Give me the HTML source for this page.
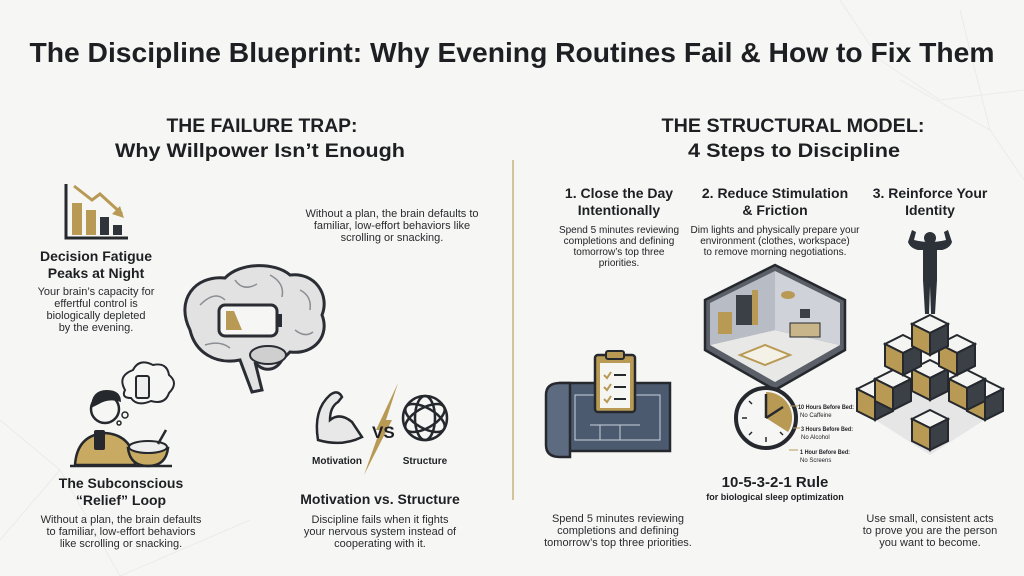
<!DOCTYPE html>
<html><head><meta charset="utf-8"><style>
html,body{margin:0;padding:0;background:#f6f6f5;}
svg{display:block}
text{font-family:"Liberation Sans",sans-serif;fill:#1e1f22}
.b{font-weight:bold}
.c{text-anchor:middle}
.s{font-size:11px;fill:#2a2b2e}
</style></head><body>
<svg width="1024" height="576" viewBox="0 0 1024 576" xmlns="http://www.w3.org/2000/svg">
<defs>
<g id="cube">
<polygon points="0,-20 18,-11 0,-2 -18,-11" fill="#f4f4f2" stroke="#25282d" stroke-width="2"/>
<polygon points="-18,-11 0,-2 0,20 -18,11" fill="#b99a55" stroke="#25282d" stroke-width="2"/>
<polygon points="18,-11 0,-2 0,20 18,11" fill="#3b3f46" stroke="#25282d" stroke-width="2"/>
</g>
</defs>
<rect width="1024" height="576" fill="#f6f6f5"/>
<g stroke="#ebebe9" stroke-width="1" fill="none">
<polyline points="840,0 880,60 940,100 1024,90"/><polyline points="900,80 990,130 1024,180"/><polyline points="990,130 960,10"/>
<polyline points="0,420 60,470 120,576"/><polyline points="60,470 0,540"/><polyline points="120,576 250,520"/>
</g>
<text x="512" y="62" class="b c" font-size="28" textLength="965" lengthAdjust="spacingAndGlyphs">The Discipline Blueprint: Why Evening Routines Fail &amp; How to Fix Them</text>
<text x="262" y="132" class="b c" font-size="19" textLength="191" lengthAdjust="spacingAndGlyphs">THE FAILURE TRAP:</text>
<text x="260" y="157" class="b c" font-size="19" textLength="290" lengthAdjust="spacingAndGlyphs">Why Willpower Isn’t Enough</text>
<text x="793" y="132" class="b c" font-size="19" textLength="263" lengthAdjust="spacingAndGlyphs">THE STRUCTURAL MODEL:</text>
<text x="794" y="157" class="b c" font-size="19" textLength="212" lengthAdjust="spacingAndGlyphs">4 Steps to Discipline</text>
<line x1="513" y1="160" x2="513" y2="500" stroke="#c9b27a" stroke-width="1.5"/>

<g>
<polyline points="66,184 66,238 128,238" fill="none" stroke="#25282d" stroke-width="3"/>
<rect x="72" y="203" width="10" height="32" fill="#b99a55"/>
<rect x="86" y="210" width="10" height="25" fill="#b99a55"/>
<rect x="100" y="217" width="9" height="18" fill="#2f333a"/>
<rect x="113" y="225" width="9" height="10" fill="#2f333a"/>
<polyline points="74,186 92,200 100,194 122,214" fill="none" stroke="#b99a55" stroke-width="3"/>
<polygon points="124,218 112,214 120,206" fill="#b99a55"/>
</g>
<text x="96" y="261" class="b c" font-size="14">Decision Fatigue</text>
<text x="96" y="278" class="b c" font-size="14">Peaks at Night</text>
<text x="96" y="295" class="c s">Your brain’s capacity for</text>
<text x="96" y="307" class="c s">effertful control is</text>
<text x="96" y="319" class="c s">biologically depleted</text>
<text x="96" y="331" class="c s">by the evening.</text>

<text x="392" y="217" class="c s">Without a plan, the brain defaults to</text>
<text x="392" y="229" class="c s">familiar, low-effort behaviors like</text>
<text x="392" y="241" class="c s">scrolling or snacking.</text>

<!-- brain -->
<path d="M190,330 C175,300 195,275 225,278 C240,262 275,262 290,275 C315,272 330,295 322,315 C330,335 315,355 290,352 L282,360 C275,372 262,372 255,362 L262,390 L252,392 L240,360 C215,365 195,352 190,330 Z" fill="#e2e2e2" stroke="#2a2d33" stroke-width="3"/>
<ellipse cx="268" cy="355" rx="18" ry="9" fill="#cfcfcf" stroke="#2a2d33" stroke-width="2"/>
<g stroke="#8a8d92" stroke-width="1.5" fill="none">
<path d="M200,305 q15,-15 25,-5"/><path d="M235,280 q8,12 22,4"/><path d="M270,275 q15,8 12,22"/><path d="M300,290 q12,6 10,20"/><path d="M205,345 q15,-5 25,3"/><path d="M295,330 q10,8 18,2"/>
</g>
<rect x="219" y="305" width="58" height="31" rx="6" fill="#f6f6f5" stroke="#2a2d33" stroke-width="3"/>
<rect x="277" y="314" width="5" height="13" fill="#2a2d33"/>
<polygon points="226,311 234,311 242,330 226,330" fill="#b99a55"/>

<g>
<circle cx="105" cy="409" r="14" fill="#f6f6f5" stroke="#25282d" stroke-width="2.5"/>
<path d="M91,408 q0,-18 16,-18 q14,0 14,12 q-12,-4 -22,2 z" fill="#25282d"/>
<path d="M75,465 q2,-30 30,-32 q28,2 30,32 z" fill="#c9aa62" stroke="#25282d" stroke-width="2.5"/>
<rect x="94" y="430" width="11" height="20" rx="2" fill="#25282d"/>
<path d="M128,448 h40 q-2,18 -20,18 q-18,0 -20,-18 z" fill="#c9aa62" stroke="#25282d" stroke-width="2.5"/>
<ellipse cx="148" cy="447" rx="19" ry="6" fill="#eee" stroke="#25282d" stroke-width="2"/>
<line x1="158" y1="444" x2="166" y2="430" stroke="#25282d" stroke-width="2.5"/>
<line x1="70" y1="466" x2="172" y2="466" stroke="#25282d" stroke-width="2.5"/>
<path d="M125,390 q-8,-14 8,-20 q6,-12 20,-5 q14,-3 16,10 q10,8 0,18 q-4,12 -18,8 q-14,6 -20,-3 q-10,0 -6,-8 z" fill="#f6f6f5" stroke="#25282d" stroke-width="2"/>
<rect x="136" y="376" width="13" height="22" rx="2" fill="#eee" stroke="#25282d" stroke-width="2"/>
<circle cx="125" cy="415" r="3" fill="none" stroke="#25282d" stroke-width="1.5"/>
<circle cx="119" cy="423" r="2" fill="none" stroke="#25282d" stroke-width="1.5"/>
</g>
<text x="121" y="488" class="b c" font-size="14">The Subconscious</text>
<text x="121" y="505" class="b c" font-size="14">“Relief” Loop</text>
<text x="121" y="523" class="c s">Without a plan, the brain defaults</text>
<text x="121" y="535" class="c s">to familiar, low-effort behaviors</text>
<text x="121" y="547" class="c s">like scrolling or snacking.</text>

<g>
<path d="M318,440 q-5,-30 12,-45 q8,-6 12,2 l-4,5 q-8,5 -8,18 q10,-8 22,2 l10,15 q-20,10 -44,3 z" fill="#e8e8e8" stroke="#25282d" stroke-width="2.5"/>
<polygon points="398,383 376,430 380,430 364,475 392,420 386,420" fill="#b99a55"/>
<text x="372" y="438" class="b" font-size="17">VS</text>
<g fill="none" stroke="#25282d" stroke-width="2.5">
<circle cx="425" cy="418" r="22"/><ellipse cx="425" cy="418" rx="22" ry="10" transform="rotate(30 425 418)"/><ellipse cx="425" cy="418" rx="22" ry="10" transform="rotate(-30 425 418)"/><ellipse cx="425" cy="418" rx="22" ry="10" transform="rotate(90 425 418)"/>
</g>
</g>
<text x="337" y="464" class="b c" font-size="10">Motivation</text>
<text x="425" y="464" class="b c" font-size="10">Structure</text>
<text x="380" y="504" class="b c" font-size="14">Motivation vs. Structure</text>
<text x="380" y="523" class="c s">Discipline fails when it fights</text>
<text x="380" y="535" class="c s">your nervous system instead of</text>
<text x="380" y="547" class="c s">cooperating with it.</text>

<text x="619" y="198" class="b c" font-size="14">1. Close the Day</text>
<text x="619" y="215" class="b c" font-size="14">Intentionally</text>
<text x="619" y="233" class="c" font-size="10">Spend 5 minutes reviewing</text>
<text x="619" y="244" class="c" font-size="10">completions and defining</text>
<text x="619" y="255" class="c" font-size="10">tomorrow’s top three</text>
<text x="619" y="266" class="c" font-size="10">priorities.</text>

<text x="775" y="198" class="b c" font-size="14">2. Reduce Stimulation</text>
<text x="775" y="215" class="b c" font-size="14">&amp; Friction</text>
<text x="775" y="233" class="c" font-size="10">Dim lights and physically prepare your</text>
<text x="775" y="244" class="c" font-size="10">environment (clothes, workspace)</text>
<text x="775" y="255" class="c" font-size="10">to remove morning negotiations.</text>

<text x="930" y="198" class="b c" font-size="14">3. Reinforce Your</text>
<text x="930" y="215" class="b c" font-size="14">Identity</text>

<g>
<rect x="560" y="383" width="110" height="68" fill="#4c5a70" stroke="#25282d" stroke-width="2.5"/>
<path d="M560,383 q-14,0 -14,12 v50 q0,12 14,12 h10 v-74 z" fill="#5d6b80" stroke="#25282d" stroke-width="2.5"/>
<g stroke="#c8d0dc" stroke-width="1" fill="none"><rect x="575" y="395" width="85" height="45"/><line x1="590" y1="425" x2="640" y2="425"/><line x1="600" y1="425" x2="600" y2="440"/><line x1="620" y1="425" x2="620" y2="440"/></g>
<rect x="595" y="355" width="40" height="57" rx="3" fill="#b99a55" stroke="#25282d" stroke-width="2.5"/>
<rect x="600" y="363" width="30" height="45" fill="#f5f5f2"/>
<rect x="606" y="351" width="18" height="8" rx="2" fill="#b99a55" stroke="#25282d" stroke-width="2"/>
<g stroke="#b99a55" stroke-width="2" fill="none"><polyline points="604,375 607,378 611,372"/><polyline points="604,387 607,390 611,384"/><polyline points="604,399 607,402 611,396"/></g>
<g stroke="#25282d" stroke-width="2"><line x1="614" y1="375" x2="626" y2="375"/><line x1="614" y1="387" x2="626" y2="387"/><line x1="614" y1="399" x2="626" y2="399"/></g>
</g>

<g>
<polygon points="705,300 775,265 845,300 845,350 775,390 705,350" fill="#5a5f68" stroke="#25282d" stroke-width="2.5"/>
<polygon points="710,303 775,271 775,330 710,345" fill="#b8bcc4"/>
<polygon points="775,271 840,303 840,345 775,330" fill="#cfd2d8"/>
<polygon points="710,345 775,330 840,345 775,382" fill="#e8e8e6"/>
<rect x="718" y="312" width="14" height="22" fill="#b99a55"/>
<rect x="736" y="295" width="20" height="30" fill="#3b3f46"/>
<rect x="752" y="290" width="6" height="35" fill="#b99a55"/>
<polygon points="740,355 765,345 790,355 765,365" fill="#f4f1e6" stroke="#b99a55" stroke-width="2"/>
<rect x="790" y="323" width="30" height="14" fill="#c9b58a" stroke="#25282d" stroke-width="1"/>
<rect x="800" y="309" width="10" height="9" fill="#3b3f46"/>
<ellipse cx="788" cy="295" rx="7" ry="4" fill="#b99a55"/>
</g>

<g>
<circle cx="766" cy="418" r="30" fill="#f6f6f5" stroke="#25282d" stroke-width="4"/>
<path d="M766,418 L766,392 A26,26 0 0 1 788,432 Z" fill="#b99a55"/>
<line x1="766" y1="418" x2="766" y2="394" stroke="#25282d" stroke-width="2.5"/>
<line x1="766" y1="418" x2="783" y2="407" stroke="#25282d" stroke-width="2.5"/>
<g stroke="#25282d" stroke-width="1.5"><line x1="742" y1="418" x2="747" y2="418"/><line x1="766" y1="442" x2="766" y2="437"/><line x1="749" y1="401" x2="752" y2="404"/><line x1="749" y1="435" x2="752" y2="432"/><line x1="783" y1="435" x2="780" y2="432"/></g>
<g stroke="#b99a55" stroke-width="1"><line x1="790" y1="406" x2="798" y2="406"/><line x1="793" y1="428" x2="800" y2="428"/><line x1="789" y1="450" x2="798" y2="450"/></g>
</g>
<polygon points="930,370 1000,410 930,455 860,410" fill="#e6e6e6"/>
<use href="#cube" x="930" y="430"/>
<use href="#cube" x="875" y="400"/>
<use href="#cube" x="985" y="400"/>
<use href="#cube" x="893" y="390"/>
<use href="#cube" x="967" y="390"/>
<use href="#cube" x="930" y="380"/>
<use href="#cube" x="903" y="355"/>
<use href="#cube" x="957" y="355"/>
<use href="#cube" x="930" y="335"/>
<g fill="#2d3138">
<circle cx="930" cy="238" r="6"/>
<path d="M912,230 l-4,12 q2,6 10,8 l5,0 l0,30 l2,34 h4 l1,-28 l1,28 h4 l2,-34 l0,-30 l5,0 q8,-2 10,-8 l-4,-12 l-4,2 l2,8 q-8,2 -16,2 q-8,0 -16,-2 l2,-8 z"/>
</g>
<text x="798" y="409" class="b" font-size="6.5" textLength="56" lengthAdjust="spacingAndGlyphs">10 Hours Before Bed:</text><text x="800" y="417" font-size="6">No Caffeine</text>
<text x="801" y="431" class="b" font-size="6.5" textLength="52" lengthAdjust="spacingAndGlyphs">3 Hours Before Bed:</text><text x="801" y="439" font-size="6">No Alcohol</text>
<text x="800" y="454" class="b" font-size="6.5" textLength="50" lengthAdjust="spacingAndGlyphs">1 Hour Before Bed:</text><text x="800" y="462" font-size="6">No Screens</text>
<text x="775" y="487" class="b c" font-size="15">10-5-3-2-1 Rule</text>
<text x="775" y="500" class="b c" font-size="9">for biological sleep optimization</text>

<text x="618" y="522" class="c s">Spend 5 minutes reviewing</text>
<text x="618" y="534" class="c s">completions and defining</text>
<text x="618" y="546" class="c s">tomorrow’s top three priorities.</text>
<text x="930" y="522" class="c s">Use small, consistent acts</text>
<text x="930" y="534" class="c s">to prove you are the person</text>
<text x="930" y="546" class="c s">you want to become.</text>
</svg>
</body></html>
